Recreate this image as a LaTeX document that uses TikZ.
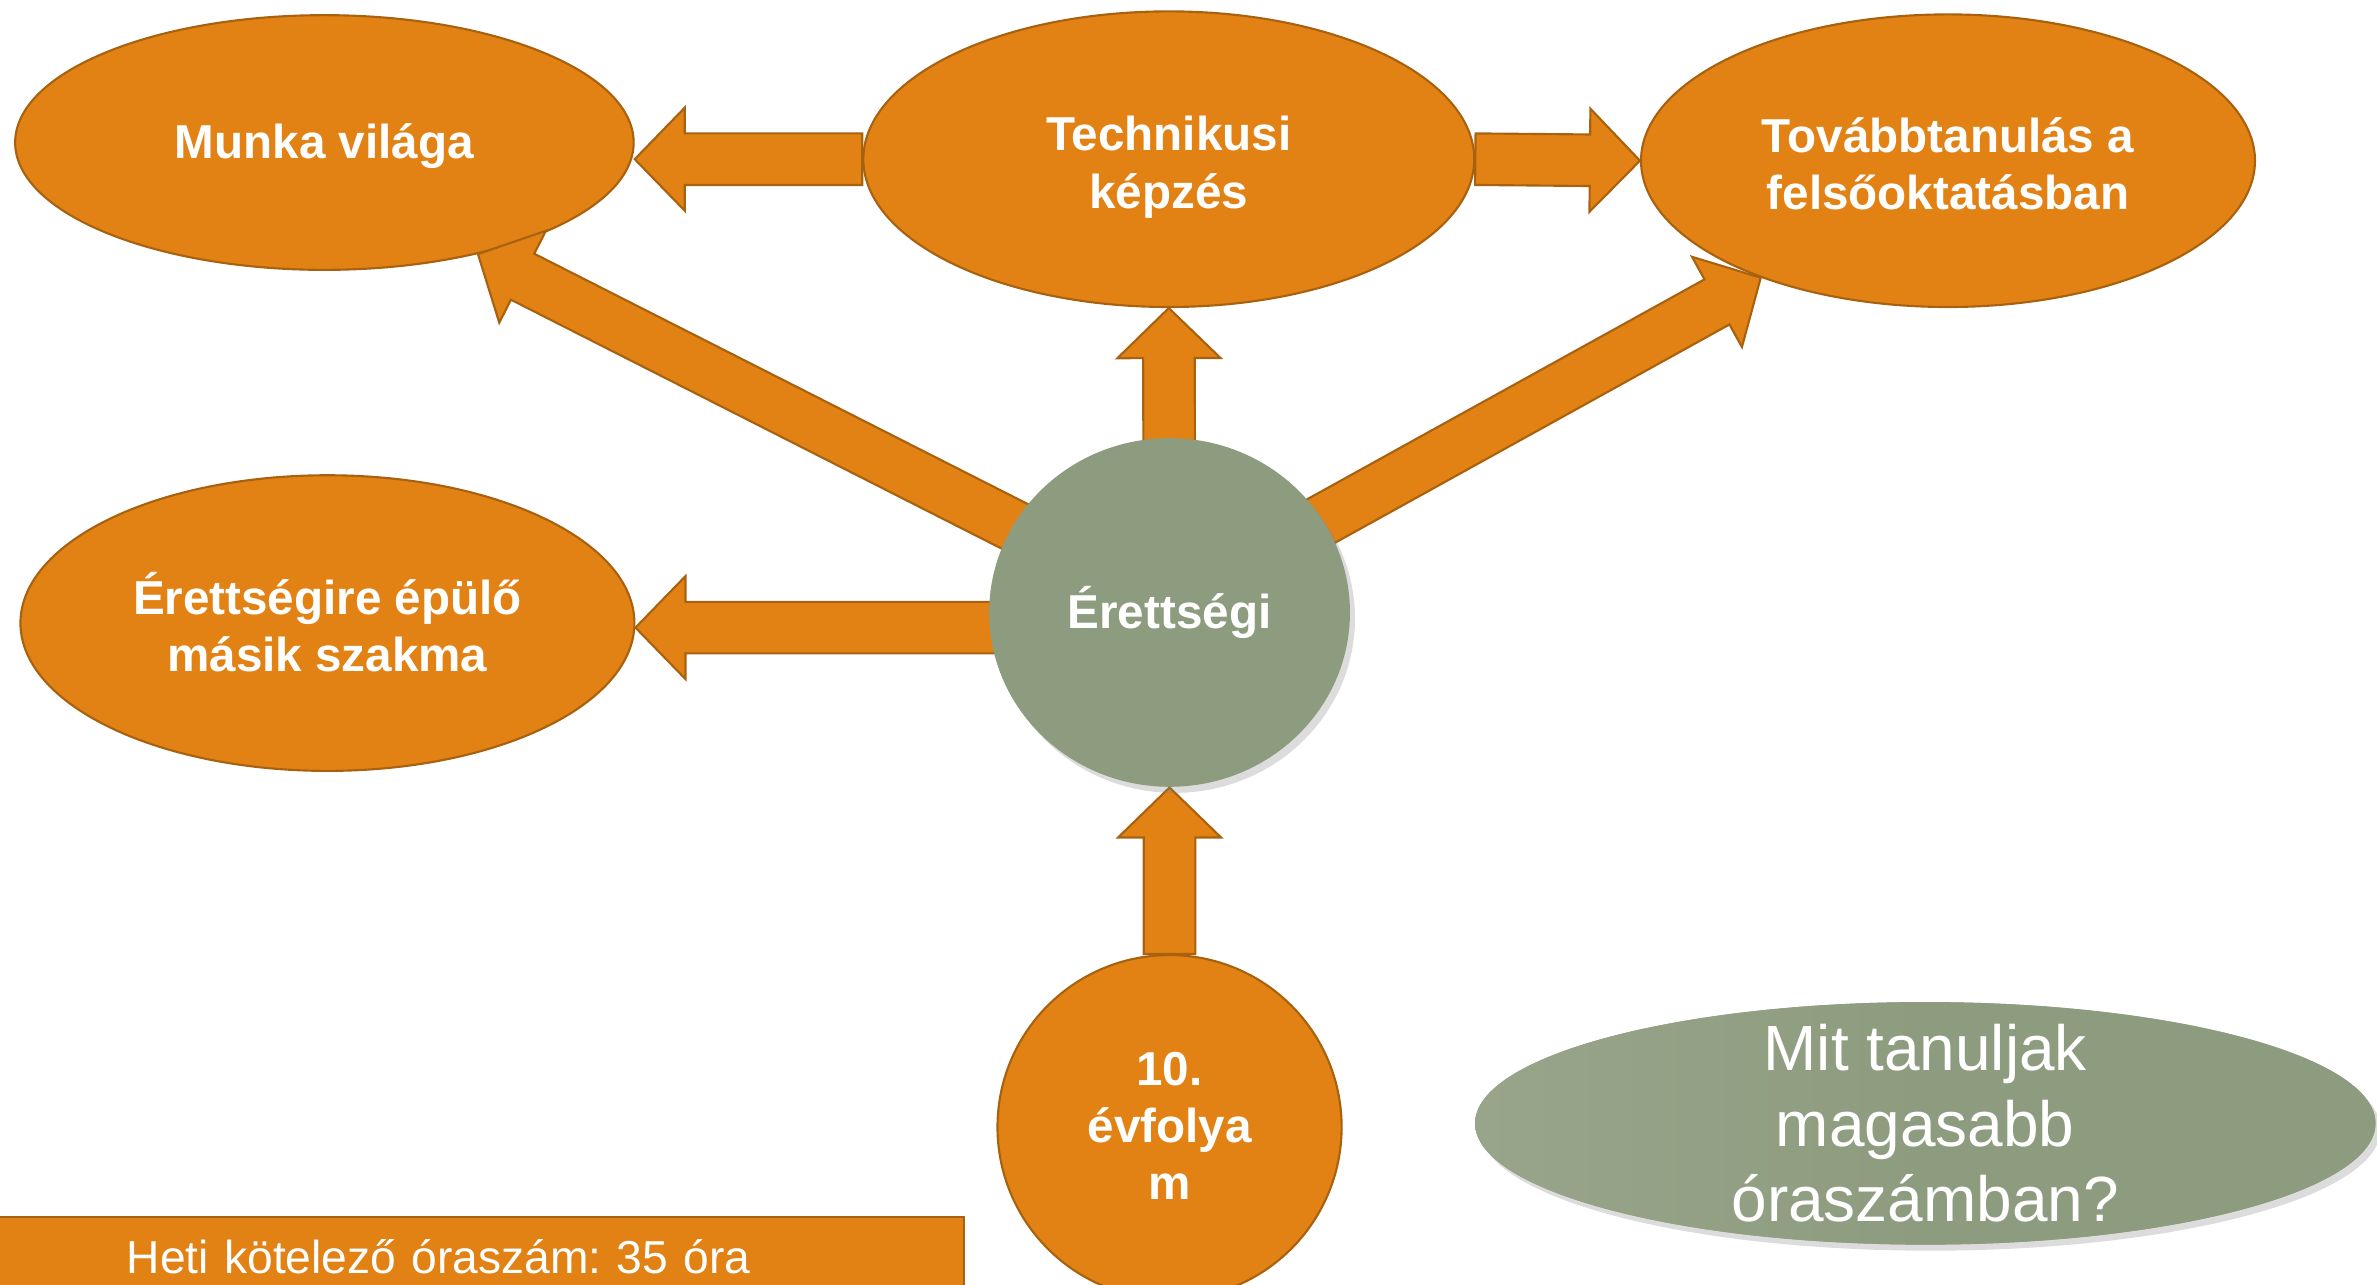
\documentclass[tikz,border=0pt]{standalone}
\usepackage{fontspec}
\setmainfont{Liberation Sans}
\frenchspacing
\usetikzlibrary{shapes.geometric,calc,backgrounds,shadows}
\pgfdeclarelayer{front}
\pgfsetlayers{background,main,front}
\definecolor{orng}{HTML}{E38214}
\definecolor{orngdark}{HTML}{A8620F}
\definecolor{sage}{HTML}{8D9B7E}
\def\U{0.015cm}
\newcommand{\blockarr}[2]{%
  \coordinate (ba-h) at ($(#2)!0.495cm!(#1)$);
  \path[blockarrow] ($(#1)!0.255cm!90:(#2)$) -- ($(ba-h)!0.255cm!-90:(#1)$)
    -- ($(ba-h)!0.51cm!-90:(#1)$) -- (#2) -- ($(ba-h)!0.51cm!90:(#1)$)
    -- ($(ba-h)!0.255cm!90:(#1)$) -- ($(#1)!0.255cm!-90:(#2)$) -- cycle;
}
\tikzset{
  blockarrow/.style={fill=orng, draw=orngdark, line width=0.6pt, line join=miter},
  bubble/.style={ellipse, fill=orng, draw=orngdark, line width=0.6pt, inner sep=0pt,
    text=white, font=\bfseries\fontsize{13.4}{16.1}\selectfont, align=center,
    text height=8.8pt, text depth=0pt},
  twolines/.style={text height=27.5pt},
  threelines/.style={text height=41pt},
  sagebubble/.style={ellipse, fill=sage, draw=none, inner sep=0pt, text=white, align=center,
    drop shadow={shadow xshift=0.05cm, shadow yshift=-0.06cm, opacity=0.28}},
  hetibox/.style={rectangle, fill=orng, draw=orngdark, line width=0.6pt, text=white,
    font=\fontsize{13}{15.6}\selectfont, align=left},
}
\begin{document}
\begin{tikzpicture}[x=0.015cm, y=-0.015cm]
\useasboundingbox (0,0) rectangle (1568,847);

\node[bubble, minimum width=408*\U, minimum height=168*\U] (munka) at (214,94) {Munka világa};
\node[bubble, twolines, minimum width=403*\U, minimum height=195*\U] (techn) at (771,105) {Technikusi\\képzés};
\node[bubble, twolines, minimum width=405*\U, minimum height=193*\U] (tovabb) at (1285,106) {Továbbtanulás a\\felsőoktatásban};
\node[bubble, twolines, minimum width=405*\U, minimum height=195*\U] (eree) at (216,411) {Érettségire épülő\\másik szakma};
\node[bubble, threelines, minimum width=227*\U, minimum height=227*\U] (evf) at (771.5,743.5) {10.\\évfolya\\m};
\begin{pgfonlayer}{front}
\node[sagebubble, minimum width=238*\U, minimum height=230*\U,
      font=\bfseries\fontsize{13.4}{16.1}\selectfont, text height=8.8pt, text depth=0pt] (erettsegi) at (771.5,404) {Érettségi};
\end{pgfonlayer}
\node[sagebubble, minimum width=594*\U, minimum height=160*\U, inner sep=-0.5cm,
      left color=sage!90!white, right color=sage, middle color=sage,
      font=\fontsize{18}{21.3}\selectfont] (mit) at (1270,741) {Mit tanuljak\\magasabb\\óraszámban?};
\node[hetibox, anchor=north west, minimum height=52*\U, inner xsep=85*\U, inner ysep=0pt,
      text width=467*\U] (heti) at (-2,802) {Heti kötelező óraszám: 35 óra};

\coordinate (ec) at ($(erettsegi.center)+(0,-5)$);
\coordinate (el) at ($(erettsegi.center)+(0,10)$);
\coordinate (ereetip) at (eree.east |- el);
\coordinate (munkatip) at (munka.east |- techn.center);

\blockarr{techn.west}{munkatip}
\blockarr{techn.east}{tovabb.west}
\blockarr{erettsegi.center}{techn.south}
\blockarr{evf.north}{erettsegi.south}
\blockarr{el}{ereetip}
\blockarr{ec}{munka.-36}
\blockarr{ec}{tovabb.212}
\end{tikzpicture}
\end{document}
